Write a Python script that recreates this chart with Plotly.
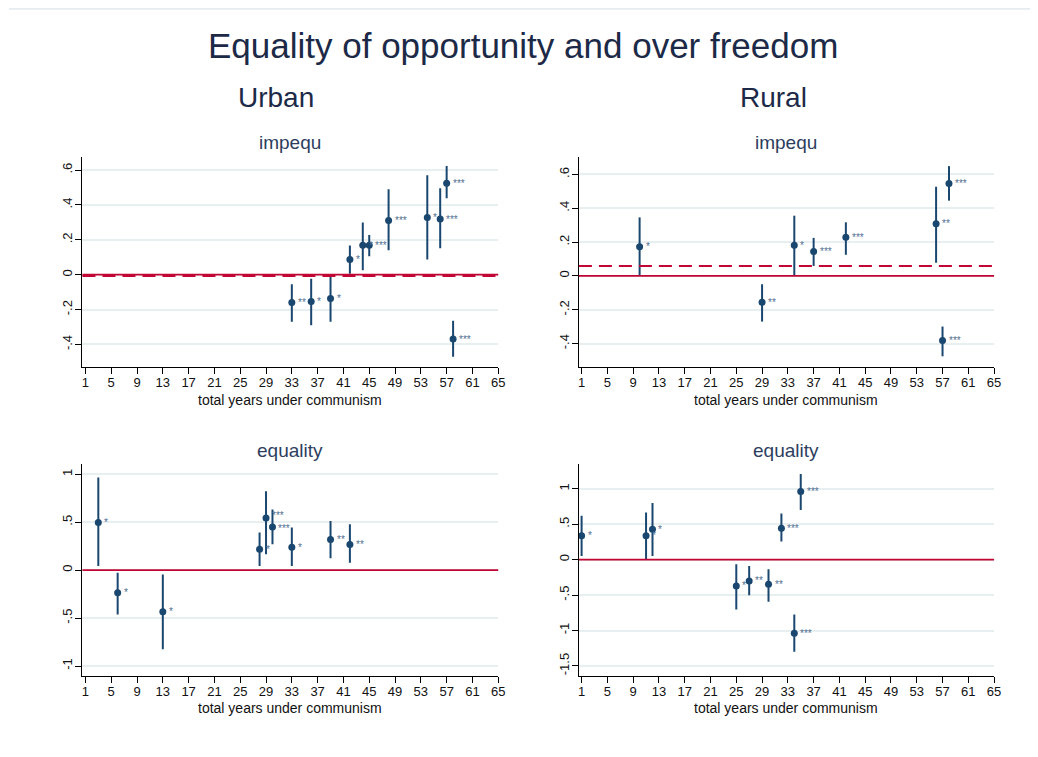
import plotly.graph_objects as go
from plotly.subplots import make_subplots

# Urban - impequ
u_imp_x = [33, 36, 39, 42, 44, 45, 48, 54, 56, 57, 58]
u_imp_b = [-0.160, -0.154, -0.137, 0.087, 0.169, 0.169, 0.311, 0.328, 0.319, 0.524, -0.369]
u_imp_lo = [-0.270, -0.290, -0.270, 0.005, 0.026, 0.106, 0.140, 0.087, 0.152, 0.439, -0.470]
u_imp_hi = [-0.055, -0.023, 0.000, 0.167, 0.300, 0.228, 0.490, 0.570, 0.496, 0.623, -0.264]
u_imp_stars = ["**", "*", "*", "*", "*", "***", "***", "*", "***", "***", "***"]
u_imp_ref = -0.008

# Rural - impequ
r_imp_x = [10, 29, 34, 37, 42, 56, 57, 58]
r_imp_b = [0.172, -0.156, 0.182, 0.145, 0.229, 0.309, -0.381, 0.547]
r_imp_lo = [0.000, -0.270, 0.000, 0.059, 0.125, 0.078, -0.475, 0.445]
r_imp_hi = [0.346, -0.049, 0.356, 0.225, 0.317, 0.527, -0.299, 0.649]
r_imp_stars = ["*", "**", "*", "***", "***", "**", "***", "***"]
r_imp_ref = 0.058

# Urban - equality
u_eq_x = [3, 6, 13, 28, 29, 30, 33, 39, 42]
u_eq_b = [0.497, -0.236, -0.434, 0.219, 0.545, 0.451, 0.240, 0.319, 0.267]
u_eq_lo = [0.042, -0.462, -0.826, 0.042, 0.167, 0.271, 0.042, 0.125, 0.076]
u_eq_hi = [0.966, -0.028, -0.045, 0.392, 0.823, 0.632, 0.444, 0.514, 0.479]
u_eq_stars = ["*", "*", "*", "*", "***", "***", "*", "**", "**"]

# Rural - equality
r_eq_x = [1, 11, 12, 25, 27, 30, 32, 34, 35]
r_eq_b = [0.335, 0.335, 0.430, -0.372, -0.301, -0.349, 0.444, -1.037, 0.962]
r_eq_lo = [0.052, 0.000, 0.052, -0.702, -0.504, -0.594, 0.255, -1.300, 0.699]
r_eq_hi = [0.618, 0.665, 0.798, -0.066, -0.090, -0.137, 0.651, -0.773, 1.208]
r_eq_stars = ["*", "*", "*", "*", "**", "**", "***", "***", "***"]

x_ticks = list(range(1, 66, 4))
imp_ticks = [-0.4, -0.2, 0, 0.2, 0.4, 0.6]
imp_labels = ["-.4", "-.2", "0", ".2", ".4", ".6"]
u_eq_ticks = [-1, -0.5, 0, 0.5, 1]
u_eq_labels = ["-1", "-.5", "0", ".5", "1"]
r_eq_ticks = [-1.5, -1, -0.5, 0, 0.5, 1]
r_eq_labels = ["-1.5", "-1", "-.5", "0", ".5", "1"]

FONT = "Liberation Sans, Arial, sans-serif"
NAVY = "#1a476f"
RED = "#c10534"
GRID = "#e8eff1"
STAR = "#4f6f92"

# a couple of star labels sit very close together; nudge them apart a little
star_nudge = {(2, 1, 29): 2, (2, 1, 30): -2}

fig = make_subplots(rows=2, cols=2)

panels = [
    (1, 1, u_imp_x, u_imp_b, u_imp_lo, u_imp_hi, u_imp_stars, [-0.529, 0.675], imp_ticks, imp_labels, [0.54, 65], u_imp_ref),
    (1, 2, r_imp_x, r_imp_b, r_imp_lo, r_imp_hi, r_imp_stars, [-0.538, 0.703], imp_ticks, imp_labels, [0.58, 65], r_imp_ref),
    (2, 1, u_eq_x, u_eq_b, u_eq_lo, u_eq_hi, u_eq_stars, [-1.104, 1.104], u_eq_ticks, u_eq_labels, [0.54, 65], None),
    (2, 2, r_eq_x, r_eq_b, r_eq_lo, r_eq_hi, r_eq_stars, [-1.641, 1.344], r_eq_ticks, r_eq_labels, [0.58, 65], None),
]

# page sits 8px in from the window corner
x_dom = {1: [0.0713, 0.4750], 2: [0.5533, 0.9564]}
y_dom = {1: [0.5258, 0.8032], 2: [0.1176, 0.3972]}
sub_title_y = {1: 0.8217, 2: 0.4148}
x_title_y = {1: 0.4822, 2: 0.0753}

for i, (row, col, xs, bs, los, his, stars, yr, yt, yl, xr, ref) in enumerate(panels):
    fig.add_trace(go.Scatter(
        x=xs, y=bs, mode="markers",
        marker=dict(color=NAVY, size=7),
        error_y=dict(type="data", symmetric=False,
                     array=[h - b for h, b in zip(his, bs)],
                     arrayminus=[b - l for b, l in zip(bs, los)],
                     color=NAVY, thickness=2, width=0),
        showlegend=False, hoverinfo="x+y"
    ), row=row, col=col)

    fig.add_hline(y=0, line=dict(color=RED, width=1.8), row=row, col=col)
    if ref is not None:
        fig.add_hline(y=ref, line=dict(color=RED, width=2, dash="13px,7px"), row=row, col=col)

    suffix = "" if i == 0 else str(i + 1)
    for xv, bv, s in zip(xs, bs, stars):
        fig.add_annotation(x=xv, y=bv, text=s, xref="x" + suffix, yref="y" + suffix,
                           showarrow=False, xanchor="left", yanchor="middle", xshift=4,
                           yshift=star_nudge.get((row, col, xv), 0),
                           font=dict(size=10, color=STAR, family=FONT))

    fig.update_xaxes(domain=x_dom[col], range=xr, tickvals=x_ticks,
                     showline=True, linecolor="black", linewidth=1.3,
                     ticks="outside", ticklen=6, tickcolor="black", tickwidth=1.3,
                     showgrid=False, zeroline=False, ticklabelstandoff=-3,
                     tickfont=dict(size=13, color="#111", family=FONT),
                     row=row, col=col)
    fig.update_yaxes(domain=y_dom[row], range=yr, tickvals=yt, ticktext=yl, tickangle=-90,
                     showline=True, linecolor="black", linewidth=1.3,
                     ticks="outside", ticklen=6, tickcolor="black", tickwidth=1.3,
                     showgrid=True, gridcolor=GRID, gridwidth=1.5, zeroline=False,
                     ticklabelstandoff=-2,
                     tickfont=dict(size=13, color="#111", family=FONT),
                     row=row, col=col)

    # panel title and x-axis title
    fig.add_annotation(text="impequ" if row == 1 else "equality", xref="paper", yref="paper",
                       x=sum(x_dom[col]) / 2, y=sub_title_y[row], showarrow=False,
                       xanchor="center", yanchor="middle",
                       font=dict(size=19, color="#2d3e5e", family=FONT))
    fig.add_annotation(text="total years under communism", xref="paper", yref="paper",
                       x=sum(x_dom[col]) / 2, y=x_title_y[row], showarrow=False,
                       xanchor="center", yanchor="middle",
                       font=dict(size=14, color="#111", family=FONT))

# titles
fig.add_annotation(text="Equality of opportunity and over freedom", xref="paper", yref="paper",
                   x=0.4995, y=0.9511, showarrow=False, xanchor="center", yanchor="middle",
                   font=dict(size=35, color="#1c2a48", family=FONT))
for txt, xv in [("Urban", 0.2596), ("Rural", 0.7423)]:
    fig.add_annotation(text=txt, xref="paper", yref="paper", x=xv, y=0.8824, showarrow=False,
                       xanchor="center", yanchor="middle",
                       font=dict(size=28, color="#1c2a48", family=FONT))

# thin rule at the top of the page
fig.add_shape(type="line", xref="paper", yref="paper", x0=0.0, x1=1, y0=0.999, y1=0.999,
              line=dict(color="#e6edf0", width=2))

fig.update_layout(
    width=1038, height=757,
    margin=dict(l=0, r=0, t=0, b=0),
    paper_bgcolor="white", plot_bgcolor="white",
    font=dict(family=FONT),
    showlegend=False,
)

fig.write_html("out.html")
